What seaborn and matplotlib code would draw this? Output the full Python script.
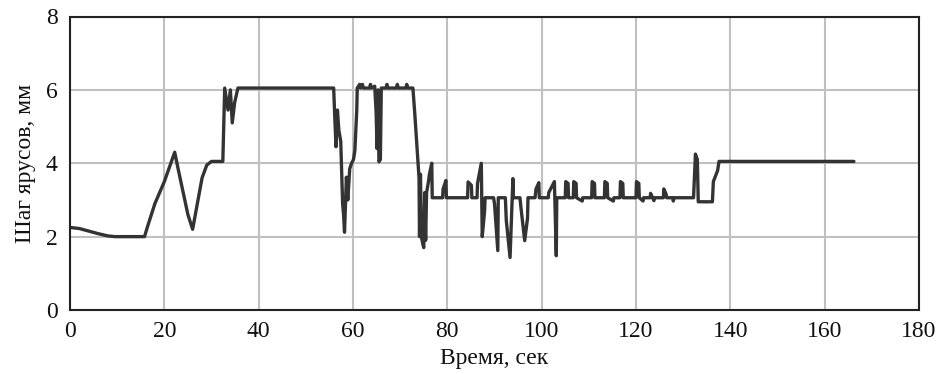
import matplotlib
matplotlib.use("Agg")
import matplotlib.pyplot as plt
import seaborn as sns
import pandas as pd

# Time, s
time_s = [
    0, 2, 4, 6, 8, 9.5, 15.8, 16.5, 18, 20, 22.2, 23, 24, 25, 26, 27, 28, 29, 30,
    32.4, 32.6, 32.8, 33.5, 34.0, 34.4, 34.9, 35.6,
    55.9, 56.1, 56.4, 56.7, 57.0, 57.4, 57.8, 58.0, 58.2, 58.6, 58.9, 59.3, 59.7,
    60.1, 60.4, 60.8, 60.9, 61.4, 61.6, 62.0, 62.2, 63.5, 63.7, 63.9, 64.6, 64.9,
    65.1, 65.3, 65.5, 65.8, 66.0, 67.0, 67.2, 67.4, 69.2, 69.4, 69.6, 71.2, 71.4,
    71.6, 72.7, 73.1, 73.6, 74.0, 74.1, 74.3, 74.5, 74.8, 75.0, 75.2, 75.4, 75.6,
    76.0, 76.2, 76.7, 76.8,
    79.0, 79.1, 79.7, 79.8, 84.3, 84.4, 85.1, 85.2, 86.3, 86.4, 87.2, 87.4, 87.9,
    88.0, 89.8, 90.0, 90.7, 90.8, 92.3, 92.5, 93.3, 93.9, 94.0, 95.4, 95.6, 96.4,
    97.0, 97.1, 98.6, 98.8, 99.4, 99.5, 101.4, 101.5, 102.7, 103.1, 103.2,
    105.0, 105.1, 105.6, 105.7, 106.7, 106.8, 107.3, 107.4, 108.6, 108.7,
    110.6, 110.7, 111.2, 111.3, 113.3, 113.4, 113.9, 114.0, 115.2, 115.3,
    116.6, 116.7, 117.2, 117.3, 120.0, 120.1, 120.6, 120.7, 121.5, 121.6,
    123.0, 123.1, 123.5, 123.8, 123.9, 125.8, 125.9, 126.4, 126.5, 127.8, 127.9,
    128.1, 132.2, 132.3, 132.6, 133.0, 133.2, 136.2, 136.4, 137.3, 137.6, 166.2,
]

# Tier step, mm
step_mm = [
    2.25, 2.22, 2.15, 2.08, 2.02, 2.0, 2.0, 2.3, 2.9, 3.5, 4.3, 3.8, 3.2, 2.6, 2.2,
    2.9, 3.6, 3.95, 4.05,
    4.05, 5.0, 6.05, 5.45, 6.0, 5.1, 5.65, 6.05,
    6.05, 5.37, 4.45, 5.45, 4.9, 4.6, 2.9, 2.6, 2.12, 3.62, 3.0, 3.85, 4.0,
    4.1, 4.35, 5.45, 6.05, 6.15, 6.05, 6.15, 6.05, 6.05, 6.15, 6.05, 6.1, 5.4,
    4.4, 6.0, 4.04, 4.1, 6.05, 6.05, 6.15, 6.05, 6.05, 6.15, 6.05, 6.05, 6.15,
    6.05, 6.05, 5.35, 4.4, 3.6, 2.0, 3.7, 2.0, 1.8, 1.7, 3.2, 1.9, 3.2,
    3.5, 3.7, 4.0, 3.06,
    3.06, 3.3, 3.53, 3.06, 3.06, 3.49, 3.4, 3.06, 3.06, 3.45, 4.0, 2.0, 2.7,
    3.06, 3.06, 2.9, 1.62, 3.06, 3.06, 2.44, 1.43, 3.58, 3.06, 3.06, 2.8, 1.89,
    2.5, 3.06, 3.06, 3.3, 3.47, 3.06, 3.06, 3.2, 3.5, 1.48, 3.06,
    3.06, 3.5, 3.45, 3.06, 3.06, 3.5, 3.45, 3.06, 2.97, 3.06,
    3.06, 3.5, 3.45, 3.06, 3.06, 3.5, 3.45, 3.06, 2.97, 3.06,
    3.06, 3.5, 3.45, 3.06, 3.06, 3.5, 3.45, 3.06, 2.97, 3.06,
    3.06, 3.18, 3.06, 2.98, 3.06, 3.06, 3.3, 3.15, 3.06, 3.06, 2.97,
    3.06, 3.06, 3.35, 4.25, 4.1, 2.95, 2.95, 3.5, 3.8, 4.05, 4.05,
]

x_ticks = [0, 20, 40, 60, 80, 100, 120, 140, 160, 180]
y_ticks = [0, 2, 4, 6, 8]
x_label = "Время, сек"
y_label = "Шаг ярусов, мм"

df = pd.DataFrame({"t": time_s, "s": step_mm})

sns.set_theme(style="whitegrid")
plt.rcParams["font.family"] = ["Liberation Serif", "DejaVu Serif"]

fig = plt.figure(figsize=(9.44, 3.74), dpi=100)
ax = fig.add_axes([70 / 944, 1 - 310 / 374, 849 / 944, 293.5 / 374])

sns.lineplot(data=df, x="t", y="s", ax=ax, color="#333333", linewidth=2.4,
             estimator=None, sort=False)

ax.set_xlim(0, 180)
ax.set_ylim(0, 8)
ax.set_xticks(x_ticks)
ax.set_yticks(y_ticks)
ax.grid(True, color="#c0c0c0", linewidth=1.5)
ax.set_facecolor("white")
for sp in ax.spines.values():
    sp.set_visible(True)
    sp.set_color("#222222")
    sp.set_linewidth(1.5)
ax.tick_params(axis="both", length=0, labelsize=17, colors="#111111")
ax.tick_params(axis="x", pad=8)
ax.tick_params(axis="y", pad=9)
ax.set_xlabel(x_label, fontsize=17, color="#111111", labelpad=4)
ax.set_ylabel(y_label, fontsize=17, color="#111111", labelpad=7)

fig.savefig("out.png", dpi=100, facecolor="white")
